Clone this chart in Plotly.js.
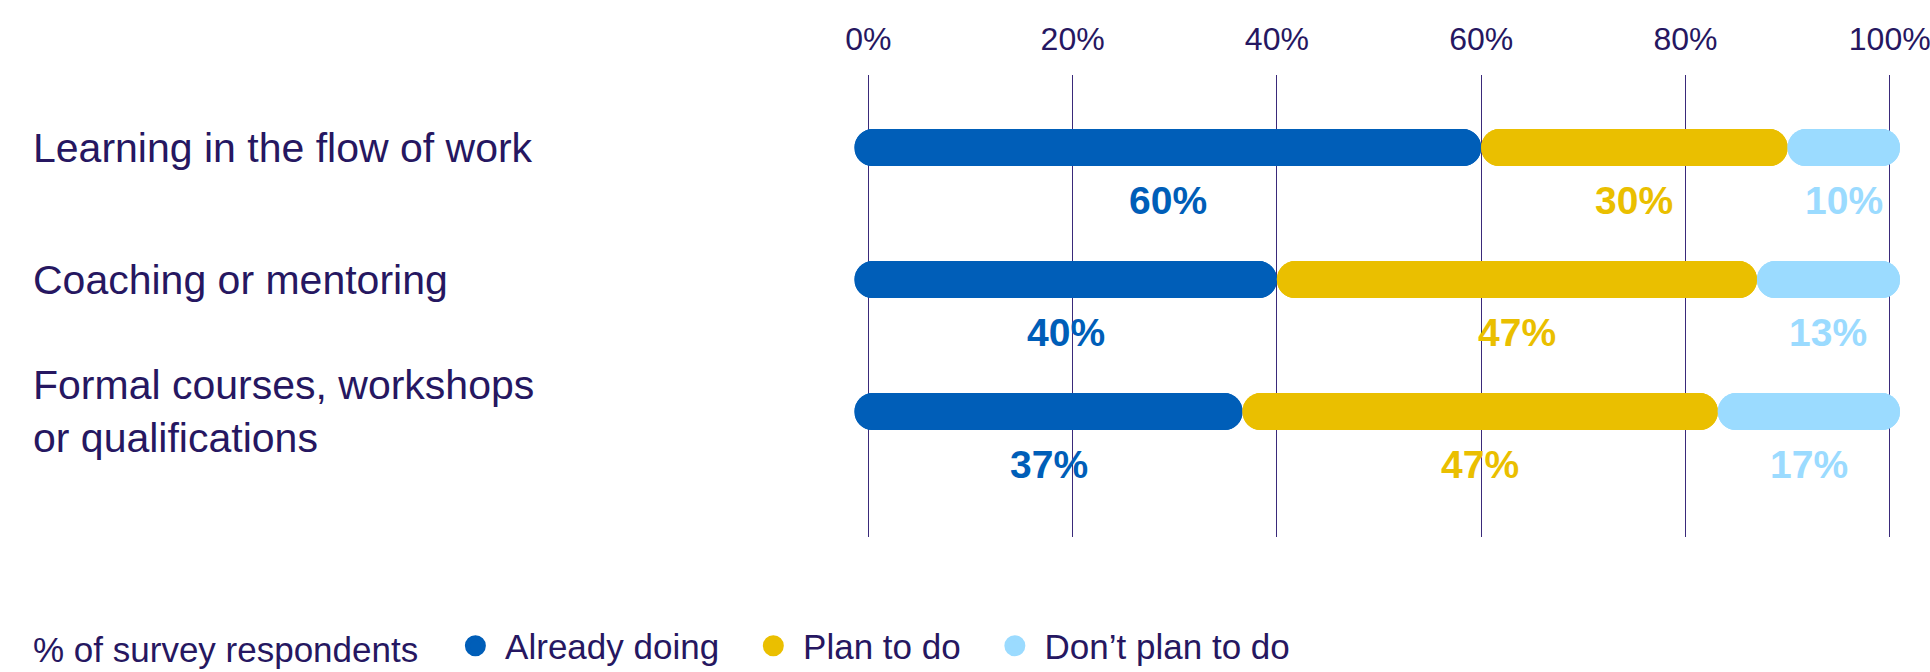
<!DOCTYPE html>
<html>
<head>
<meta charset="utf-8">
<script src="https://cdn.plot.ly/plotly-3.0.1.min.js"></script>
<style>
  html, body { margin: 0; padding: 0; background: #ffffff; }
  #chart { width: 1930px; height: 672px; }
</style>
</head>
<body>
<div id="chart"></div>
<script>
// ---- data ----
const categories = [
  "Learning in the flow of work",
  "Coaching or mentoring",
  "Formal courses, workshops<br>or qualifications"
];
const alreadyDoing = [60, 40, 37];
const planToDo = [30, 47, 47];
const dontPlanToDo = [10, 13, 17];
const seriesNames = ["Already doing", "Plan to do", "Don\u2019t plan to do"];
const tickValues = [0, 20, 40, 60, 80, 100];
const tickLabels = ["0%", "20%", "40%", "60%", "80%", "100%"];
const legendTitle = "% of survey respondents";

// ---- style ----
const colors = ["#005EB8", "#EABF00", "#9BDBFF"];
const textColor = "#261761";
const gridColor = "#3a2a7a";
const fontFam = "Liberation Sans, Arial, sans-serif";
const capLeft = 1.35;   // visual overhang of the rounded end caps (axis units)
const capRight = 1.0;
const xRange = [-1.5, 101.2];

const series = [alreadyDoing, planToDo, dontPlanToDo];
const idx = categories.map((c, i) => i);
const totals = idx.map(i => series.reduce((s, arr) => s + arr[i], 0));

const traces = [];
const annotations = [];
let cum = idx.map(() => 0);
const last = series.length - 1;
series.forEach((vals, s) => {
  const starts = idx.map(i => cum[i] / totals[i] * 100 - (s === 0 ? capLeft : 0));
  const ends = idx.map(i => (cum[i] + vals[i]) / totals[i] * 100 + (s === last ? capRight : 0));
  const lens = idx.map(i => ends[i] - starts[i]);
  // rounded at end
  traces.push({
    type: "bar", orientation: "h", y: idx, x: lens, base: starts,
    width: 0.28, marker: { color: colors[s], cornerradius: "50%", line: { width: 0 } },
    showlegend: false, hoverinfo: "skip"
  });
  // rounded at start
  traces.push({
    type: "bar", orientation: "h", y: idx, x: lens.map(l => -l), base: ends,
    width: 0.28, marker: { color: colors[s], cornerradius: "50%", line: { width: 0 } },
    showlegend: false, hoverinfo: "skip"
  });
  idx.forEach(i => {
    annotations.push({
      x: (starts[i] + ends[i]) / 2, y: i, xref: "x", yref: "y",
      yshift: -53, text: vals[i] + "%", showarrow: false,
      font: { family: fontFam, size: 39, color: colors[s], weight: "bold" }
    });
  });
  cum = idx.map(i => cum[i] + vals[i]);
});

// legend-only marker traces
series.forEach((vals, s) => {
  traces.push({
    type: "scatter", mode: "markers", x: [null], y: [null],
    name: "\u00a0" + seriesNames[s] + "\u00a0\u00a0\u00a0",
    marker: { color: colors[s], size: 16, line: { color: colors[s], width: 5 } },
    showlegend: true, hoverinfo: "skip"
  });
});

// x position (paper) of the category labels: 31px from the left edge of the page
const plotLeft = 853, plotRight = 1930 - 28;
const labelX = (31 - plotLeft) / (plotRight - plotLeft);
categories.forEach((c, i) => {
  annotations.push({
    x: labelX, xref: "paper", y: i, yref: "y", xanchor: "left", yanchor: "middle",
    align: "left", text: c, showarrow: false,
    font: { family: fontFam, size: 41, color: textColor }
  });
});

const layout = {
  width: 1930, height: 672,
  margin: { l: plotLeft, r: 28, t: 75, b: 135 },
  paper_bgcolor: "#ffffff", plot_bgcolor: "#ffffff",
  barmode: "overlay",
  showlegend: true,
  xaxis: {
    side: "top", range: xRange, tickvals: tickValues, ticktext: tickLabels,
    showgrid: true, gridcolor: gridColor, gridwidth: 1,
    zeroline: true, zerolinecolor: gridColor, zerolinewidth: 1,
    showline: false, ticks: "", ticklabelstandoff: 18, ticklabeloverflow: "allow",
    tickfont: { family: fontFam, size: 32, color: textColor },
    fixedrange: true
  },
  yaxis: {
    type: "linear", range: [2.95, -0.55], showgrid: false, zeroline: false,
    showticklabels: false, showline: false, fixedrange: true
  },
  legend: {
    orientation: "h", xref: "container", yref: "container",
    x: 31 / 1930, xanchor: "left", y: 1 - 646 / 672, yanchor: "middle",
    font: { family: fontFam, size: 35, color: textColor },
    title: { text: legendTitle + "\u00a0\u00a0\u00a0", side: "left",
             font: { family: fontFam, size: 35, color: textColor } },
    bgcolor: "rgba(0,0,0,0)", itemclick: false, itemdoubleclick: false,
    tracegroupgap: 0
  },
  annotations: annotations
};

Plotly.newPlot("chart", traces, layout, { displayModeBar: false, staticPlot: true });
</script>
</body>
</html>
